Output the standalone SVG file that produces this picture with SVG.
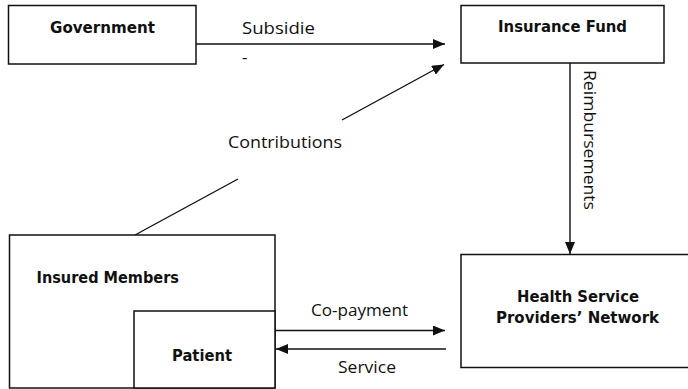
<svg xmlns="http://www.w3.org/2000/svg" width="688" height="389" viewBox="0 0 688 389">
<style>
.box{fill:#fff;stroke:#111;stroke-width:1.5}
.node{font-family:"DejaVu Sans",Verdana,sans-serif;font-weight:bold;font-size:15px;fill:#111}
.lbl{font-family:"Open Sans","Liberation Sans",sans-serif;font-size:17px;fill:#111}
.con{stroke:#111;stroke-width:1.4;fill:none}
</style>
<defs>
<marker id="ah" markerWidth="12" markerHeight="10" refX="12" refY="5" orient="auto" markerUnits="userSpaceOnUse">
<path d="M0,0 L12,5 L0,10 Z" fill="#111"/>
</marker>
</defs>
<rect width="688" height="389" fill="#fff"/>
<g id="connectors">
<line class="con" x1="196" y1="44" x2="445" y2="44" marker-end="url(#ah)"/>
<line class="con" x1="135" y1="235" x2="238" y2="179"/>
<line class="con" x1="342" y1="120" x2="444" y2="64.5" marker-end="url(#ah)"/>
<line class="con" x1="570" y1="63" x2="570" y2="254" marker-end="url(#ah)"/>
<line class="con" x1="275" y1="330.5" x2="445" y2="330.5" marker-end="url(#ah)"/>
<line class="con" x1="446" y1="349" x2="276" y2="349" marker-end="url(#ah)"/>
<text class="lbl" x="242" y="34" textLength="73" lengthAdjust="spacingAndGlyphs">Subsidie</text>
<text class="lbl" x="242" y="63" font-size="14">-</text>
<text class="lbl" x="228" y="148" font-size="18" textLength="114" lengthAdjust="spacingAndGlyphs">Contributions</text>
<text class="lbl" x="584" y="70" transform="rotate(90 584 70)" font-size="16" textLength="140" lengthAdjust="spacingAndGlyphs">Reimbursements</text>
<text class="lbl" x="311" y="316" textLength="97" lengthAdjust="spacingAndGlyphs">Co-payment</text>
<text class="lbl" x="338" y="373" textLength="58" lengthAdjust="spacingAndGlyphs">Service</text>
</g>
<g id="government">
<rect class="box" x="8.5" y="5.5" width="187.5" height="58.5"/>
<text class="node" x="50" y="32.5" textLength="105" lengthAdjust="spacingAndGlyphs">Government</text>
</g>
<g id="insurance-fund">
<rect class="box" x="461" y="5.5" width="203" height="57.5"/>
<text class="node" x="498" y="32" textLength="129" lengthAdjust="spacingAndGlyphs">Insurance Fund</text>
</g>
<g id="insured-members">
<rect class="box" x="9.5" y="235" width="265.5" height="153"/>
<text class="node" x="36.5" y="283" textLength="142.5" lengthAdjust="spacingAndGlyphs">Insured Members</text>
</g>
<g id="patient">
<rect class="box" x="134" y="311" width="141" height="77"/>
<text class="node" x="172" y="361" font-size="16" textLength="60" lengthAdjust="spacingAndGlyphs">Patient</text>
</g>
<g id="health-service-providers">
<rect class="box" x="461" y="254.5" width="240" height="113"/>
<text class="node" x="517" y="301.5" textLength="122" lengthAdjust="spacingAndGlyphs">Health Service</text>
<text class="node" x="496" y="323" textLength="163" lengthAdjust="spacingAndGlyphs">Providers’ Network</text>
</g>
</svg>
